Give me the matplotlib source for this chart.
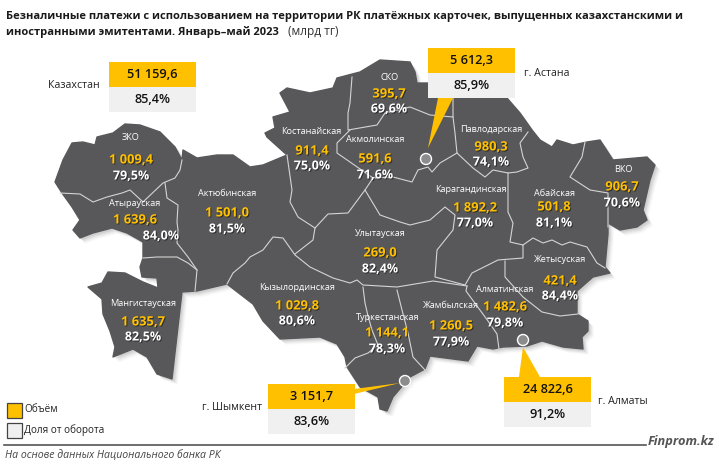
import matplotlib
matplotlib.use("Agg")
import matplotlib.pyplot as plt
import matplotlib.patheffects as pe
from matplotlib.patches import Polygon, Rectangle, Circle

plt.rcParams['font.family'] = ['Open Sans', 'DejaVu Sans']

# values
regions = ["ЗКО", "Атырауская", "Актюбинская", "Костанайская", "СКО", "Акмолинская",
           "Павлодарская", "Карагандинская", "Абайская", "ВКО", "Улытауская",
           "Мангистауская", "Кызылординская", "Туркестанская", "Жамбылская",
           "Алматинская", "Жетысуская"]
volumes = ["1 009,4", "1 639,6", "1 501,0", "911,4", "395,7", "591,6",
           "980,3", "1 892,2", "501,8", "906,7", "269,0",
           "1 635,7", "1 029,8", "1 144,1", "1 260,5", "1 482,6", "421,4"]
shares = ["79,5%", "84,0%", "81,5%", "75,0%", "69,6%", "71,6%",
          "74,1%", "77,0%", "81,1%", "70,6%", "82,4%",
          "82,5%", "80,6%", "78,3%", "77,9%", "79,8%", "84,4%"]

cities = ["Казахстан", "г. Астана", "г. Шымкент", "г. Алматы"]
city_volumes = ["51 159,6", "5 612,3", "3 151,7", "24 822,6"]
city_shares = ["85,4%", "85,9%", "83,6%", "91,2%"]

# label anchors: name y, volume y, share y and centre x of name / numbers
name_pos = [(131, 138), (135, 203), (227, 194), (311, 132), (390, 77), (375, 140),
            (491, 129), (471, 189), (554, 193), (623, 169), (380, 234),
            (143, 303), (297, 288), (388, 318), (451, 306), (505, 289), (560, 260)]
vol_pos = [(131, 160), (135, 220), (227, 213), (312, 151), (389, 94), (375, 159),
           (491, 147), (475, 208), (554, 207), (622, 187), (380, 253),
           (143, 322), (297, 306), (387, 333), (451, 326), (505, 307), (560, 281)]
share_pos = [(131, 176), (161, 236), (227, 229), (312, 166), (389, 109), (375, 175),
             (491, 162), (475, 223), (554, 223), (622, 203), (380, 269),
             (143, 337), (297, 321), (387, 349), (451, 342), (505, 323), (560, 296)]

# map geometry, traced in picture pixels
outline = [(55, 182), (63, 160), (72, 143), (83, 142), (95, 145), (97, 137), (113, 133), (125, 124),
           (140, 125), (160, 132), (175, 147), (182, 160), (183, 150), (197, 158), (217, 155),
           (233, 155), (250, 167), (263, 165), (287, 155), (267, 137), (265, 133), (275, 128),
           (273, 117), (290, 112), (280, 93), (287, 88), (310, 93), (333, 88), (337, 78),
           (360, 72), (380, 60), (410, 62), (415, 72), (417, 83), (428, 83), (460, 98), (507, 98),
           (520, 113), (532, 130), (540, 140), (552, 147), (557, 140), (573, 145), (587, 142),
           (600, 140), (613, 160), (647, 157), (655, 165), (650, 180), (647, 193), (643, 210),
           (647, 220), (637, 227), (620, 230), (608, 223), (608, 234), (605, 267), (610, 273),
           (593, 277), (577, 291), (577, 314), (588, 321), (588, 331), (582, 337), (583, 349),
           (563, 347), (542, 341), (527, 346), (503, 347), (493, 349), (477, 346), (468, 361),
           (430, 356), (425, 369), (410, 377), (393, 397), (387, 411), (380, 409), (378, 397),
           (360, 387), (347, 367), (345, 357), (337, 344), (320, 337), (280, 339), (263, 321),
           (253, 304), (227, 284), (197, 291), (182, 292), (172, 379), (157, 374), (147, 357),
           (133, 349), (113, 357), (115, 347), (110, 331), (103, 314), (102, 299), (88, 287),
           (102, 283), (108, 272), (125, 273), (143, 282), (158, 288), (157, 278), (142, 277),
           (140, 267), (143, 258), (143, 242), (127, 233), (112, 228), (93, 233), (80, 238),
           (73, 230), (80, 220), (72, 207), (62, 193)]

borders = [
    [(60, 193), (80, 194), (93, 202), (107, 197), (122, 193), (130, 190), (143, 202), (163, 183),
     (175, 178), (180, 170), (182, 160)],
    [(165, 183), (167, 198), (178, 205), (177, 222), (178, 230), (177, 243), (188, 257), (197, 270), (195, 291)],
    [(143, 258), (157, 257), (177, 257), (188, 263), (197, 270)],
    [(227, 284), (233, 273), (245, 263), (250, 257), (263, 250), (273, 237), (283, 238), (295, 255),
     (310, 267), (333, 278), (350, 283), (357, 280), (363, 285), (397, 287), (433, 281), (467, 286)],
    [(363, 287), (365, 303), (368, 316), (372, 330), (378, 345), (368, 353), (355, 358), (345, 368)],
    [(397, 290), (402, 310), (408, 333), (413, 357), (425, 370)],
    [(467, 286), (466, 291), (477, 306), (488, 321), (497, 334), (499, 349)],
    [(287, 155), (292, 190), (290, 202), (298, 217), (315, 228), (313, 240), (295, 254)],
    [(315, 228), (328, 214), (348, 213), (365, 190), (373, 178), (350, 162), (337, 153), (337, 143), (350, 130)],
    [(365, 190), (380, 215), (400, 222), (410, 225), (430, 220), (445, 207), (455, 215), (453, 230),
     (437, 250), (435, 277), (465, 285), (472, 273), (498, 260), (523, 258), (523, 245), (510, 242),
     (513, 223), (508, 212), (508, 187), (508, 173)],
    [(523, 245), (533, 238), (543, 243), (552, 240), (562, 245), (570, 242), (587, 247), (597, 263), (605, 268)],
    [(505, 261), (505, 277), (523, 297), (542, 312), (560, 316), (578, 314)],
    [(528, 132), (520, 143), (523, 157), (528, 168), (517, 172), (508, 173), (493, 170), (485, 177),
     (473, 168), (457, 153), (455, 133), (453, 117), (453, 98)],
    [(457, 153), (440, 163), (432, 172), (428, 167), (418, 170), (412, 182), (393, 177), (373, 178)],
    [(352, 77), (350, 103), (348, 113), (348, 130), (377, 125), (385, 113), (410, 107), (430, 115), (453, 117)],
    [(585, 142), (582, 157), (570, 177), (590, 190), (608, 193), (608, 227)],
]

YELLOW = '#ffc000'
LIGHT = '#f0f0f0'
MAP = '#58585a'

fig = plt.figure(figsize=(7.19, 4.68), dpi=100)
ax = fig.add_axes([0, 0, 1, 1])
ax.set_xlim(0, 719)
ax.set_ylim(468, 0)
ax.axis('off')

# soft shadow of the map
for off, a in [(6, 0.02), (5, 0.03), (4, 0.04), (3, 0.05), (2, 0.06)]:
    ax.add_patch(Polygon([(x + off, y + off) for x, y in outline], closed=True, fc='black',
                         ec='none', alpha=a, zorder=1))
ax.add_patch(Polygon(outline, closed=True, fc=MAP, ec=MAP, lw=1, joinstyle='round', zorder=2))
for b in borders:
    ax.plot(*zip(*b), color='#d4d4d4', lw=0.8, solid_joinstyle='round', zorder=3)

# region labels
shadow = [pe.withSimplePatchShadow(offset=(0.7, -0.7), shadow_rgbFace='black', alpha=0.5)]
for i, name in enumerate(regions):
    ax.text(*name_pos[i], name, color='white', fontsize=6.6, ha='center', va='center', zorder=5)
    ax.text(*vol_pos[i], volumes[i], color=YELLOW, fontsize=9.3, fontweight='bold', ha='center',
            va='center', zorder=5, path_effects=shadow)
    ax.text(*share_pos[i], shares[i], color='white', fontsize=9, fontweight='bold', ha='center',
            va='center', zorder=5, path_effects=shadow)

# callout boxes
box_pos = [(109, 62), (428, 48), (268, 384), (504, 377)]
for (x, y), v, s in zip(box_pos, city_volumes, city_shares):
    ax.add_patch(Rectangle((x, y), 87, 25, fc=YELLOW, ec='none', zorder=6))
    ax.add_patch(Rectangle((x, y + 25), 87, 25, fc=LIGHT, ec='none', zorder=6))
    ax.text(x + 43.5, y + 12.5, v, fontsize=9.2, fontweight='semibold', color='#111111', ha='center', va='center', zorder=7)
    ax.text(x + 43.5, y + 37.5, s, fontsize=9.2, fontweight='semibold', color='#111111', ha='center', va='center', zorder=7)

# pointers to the cities
ax.add_patch(Polygon([(438, 98), (453, 98), (428, 148)], fc=YELLOW, ec='none', zorder=6))
ax.add_patch(Polygon([(354, 389), (354, 394), (400, 383)], fc=YELLOW, ec='none', zorder=6))
ax.add_patch(Polygon([(519, 377), (540, 377), (523, 347)], fc=YELLOW, ec='none', zorder=6))
for c in [(426, 159), (405, 381), (523, 340)]:
    ax.add_patch(Circle(c, 5.5, fc='#8c8c8c', ec='white', lw=1, zorder=6))

ax.text(100, 86, cities[0], fontsize=7.7, color='#222222', ha='right', va='center')
ax.text(524, 73, cities[1], fontsize=7.7, color='#222222', ha='left', va='center')
ax.text(262, 408, cities[2], fontsize=7.7, color='#222222', ha='right', va='center')
ax.text(598, 401, cities[3], fontsize=7.7, color='#222222', ha='left', va='center')

# title
ax.text(6, 16, "Безналичные платежи с использованием на территории РК платёжных карточек, выпущенных казахстанскими и",
        fontsize=8.03, fontweight='bold', color='#1a1a1a', ha='left', va='center')
ax.text(6, 32, "иностранными эмитентами. Январь–май 2023", fontsize=8.03, fontweight='bold', color='#1a1a1a',
        ha='left', va='center')
ax.text(288, 32, "(млрд тг)", fontsize=8.6, color='#333333', ha='left', va='center')

# legend
ax.add_patch(Rectangle((6.5, 402.5), 15, 15, fc=YELLOW, ec='#444444', lw=0.9))
ax.add_patch(Rectangle((6.5, 422.5), 15, 15, fc=LIGHT, ec='#444444', lw=0.9))
ax.text(24, 410, "Объём", fontsize=7.2, color='#222222', ha='left', va='center')
ax.text(24, 430, "Доля от оборота", fontsize=7.2, color='#222222', ha='left', va='center')

# footer
ax.plot([4, 646], [445, 445], color='#555555', lw=1.2)
ax.text(5, 455, "На основе данных Национального банка РК", fontsize=7.6, style='italic', color='#444444',
        ha='left', va='center')
ax.text(714, 442, "Finprom.kz", fontsize=9.2, style='italic', fontweight='bold', color='#555555',
        ha='right', va='center')

fig.savefig("out.png", dpi=100)
